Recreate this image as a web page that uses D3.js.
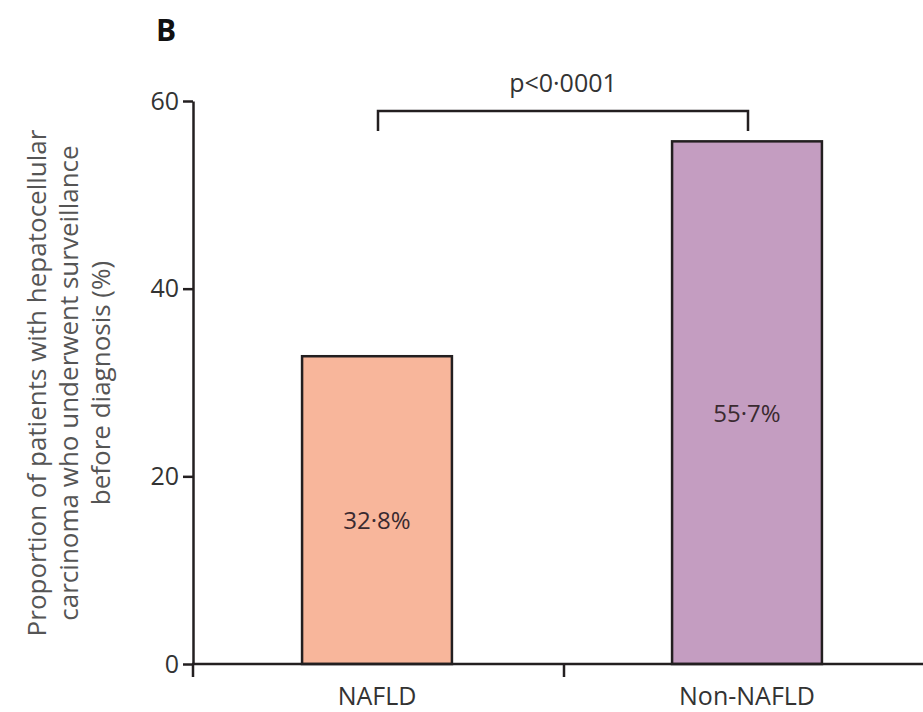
<!DOCTYPE html>
<html>
<head>
<meta charset="utf-8">
<script src="https://cdn.jsdelivr.net/npm/d3@7"></script>
<style>
  body { margin: 0; background: #fff; }
  svg { display: block; font-family: "Open Sans", "Noto Sans", sans-serif; }
</style>
</head>
<body>
<div id="app"></div>
<script>
// data
const categories = ["NAFLD", "Non-NAFLD"];
const values = [32.8, 55.7];
const valueLabels = ["32·8%", "55·7%"];
const barColors = ["#F8B69B", "#C49DC1"];
const yTicks = [0, 20, 40, 60];
const pLabel = "p<0·0001";
const yTitle = [
  "Proportion of patients with hepatocellular",
  "carcinoma who underwent surveillance",
  "before diagnosis (%)"
];

const width = 923, height = 712;
const svg = d3.select("#app").append("svg")
  .attr("width", width)
  .attr("height", height);

// scales
const x = d3.scaleBand().domain(categories).range([192, 932]);
const y = d3.scaleLinear().domain([0, 60]).range([664, 101]);
const barW = x.bandwidth() * 0.405;

// panel letter
svg.append("text")
  .attr("x", 156).attr("y", 41)
  .attr("font-size", 30).attr("font-weight", "bold")
  .attr("fill", "#111")
  .text("B");

// bars
svg.selectAll(".bar")
  .data(categories)
  .enter().append("rect")
  .attr("class", "bar")
  .attr("x", d => x(d) + x.bandwidth() / 2 - barW / 2)
  .attr("y", (d, i) => y(values[i]))
  .attr("width", barW)
  .attr("height", (d, i) => y(0) - y(values[i]))
  .attr("fill", (d, i) => barColors[i])
  .attr("stroke", "#231f20")
  .attr("stroke-width", 2.5);

// value labels in the middle of the bars
svg.selectAll(".val")
  .data(categories)
  .enter().append("text")
  .attr("class", "val")
  .attr("x", d => x(d) + x.bandwidth() / 2)
  .attr("y", (d, i) => (y(values[i]) + y(0)) / 2 + 19)
  .attr("text-anchor", "middle")
  .attr("font-size", 24)
  .attr("fill", "#3a2a30")
  .text((d, i) => valueLabels[i]);

// y axis
const yAxis = svg.append("g")
  .attr("transform", "translate(193,0)")
  .call(d3.axisLeft(y).tickValues(yTicks).tickSize(10).tickPadding(4).tickSizeOuter(0));
yAxis.select(".domain").attr("stroke", "#231f20").attr("stroke-width", 2.5);
yAxis.selectAll(".tick line").attr("stroke", "#231f20").attr("stroke-width", 2.5);
yAxis.selectAll(".tick text")
  .attr("font-size", 25).attr("fill", "#333")
  .attr("font-family", "Open Sans, sans-serif");

// x axis: ticks on band boundaries
const xAxis = svg.append("g").attr("transform", `translate(0,${y(0)})`);
xAxis.append("line")
  .attr("x1", 192).attr("x2", width)
  .attr("stroke", "#231f20").attr("stroke-width", 2.5);
xAxis.selectAll(".bt")
  .data(categories)
  .enter().append("line")
  .attr("class", "bt")
  .attr("x1", d => x(d) + (d === categories[0] ? 1 : 2))
  .attr("x2", d => x(d) + (d === categories[0] ? 1 : 2))
  .attr("y1", 0).attr("y2", 13)
  .attr("stroke", "#231f20").attr("stroke-width", 2.5);
xAxis.selectAll(".xl")
  .data(categories)
  .enter().append("text")
  .attr("class", "xl")
  .attr("x", d => x(d) + x.bandwidth() / 2)
  .attr("y", 41)
  .attr("text-anchor", "middle")
  .attr("font-size", 25)
  .attr("fill", "#333")
  .text(d => d);

// significance bracket
const bx1 = x(categories[0]) + x.bandwidth() / 2 + 1;
const bx2 = x(categories[1]) + x.bandwidth() / 2 + 1;
const by = 111;
svg.append("path")
  .attr("d", `M${bx1},${by + 20}V${by}H${bx2}V${by + 20}`)
  .attr("fill", "none")
  .attr("stroke", "#231f20")
  .attr("stroke-width", 2.5);
svg.append("text")
  .attr("x", (bx1 + bx2) / 2)
  .attr("y", 92)
  .attr("text-anchor", "middle")
  .attr("font-size", 25)
  .attr("fill", "#333")
  .text(pLabel);

// y title
const yt = svg.append("text")
  .attr("transform", "translate(0,383) rotate(-90)")
  .attr("text-anchor", "middle")
  .attr("font-size", 26)
  .attr("fill", "#555");
yTitle.forEach((line, i) => {
  yt.append("tspan")
    .attr("x", 0)
    .attr("y", 46 + i * 32)
    .text(line);
});
</script>
</body>
</html>
